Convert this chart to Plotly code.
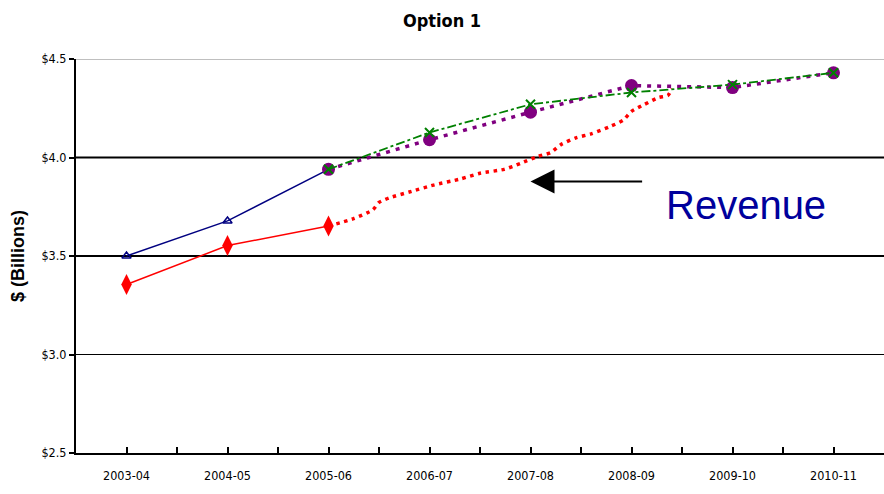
import plotly.graph_objects as go

# Fiscal years on the category axis
years = ["2003-04", "2004-05", "2005-06", "2006-07", "2007-08", "2008-09", "2009-10", "2010-11"]
year_pos = list(range(len(years)))

# Historical series (first three fiscal years)
blue_vals = [3.50, 3.678, 3.94]
red_vals = [3.355, 3.553, 3.652]

# Revenue projection path (position in fiscal years, $ billions)
rev_pos = [2.0, 2.25, 2.44, 2.50, 2.60, 2.80, 3.04, 3.30, 3.50, 3.74, 3.90, 4.07, 4.20,
           4.30, 4.45, 4.60, 4.80, 4.92, 5.00, 5.13, 5.27, 5.36, 5.40]
rev_vals = [3.652, 3.69, 3.735, 3.772, 3.795, 3.825, 3.86, 3.89, 3.92, 3.94, 3.97, 4.005, 4.025,
            4.065, 4.10, 4.12, 4.16, 4.19, 4.234, 4.27, 4.305, 4.315, 4.35]

# Two expenditure scenarios from 2005-06 onward
purple_vals = [3.94, 4.09, 4.23, 4.365, 4.355, 4.43]
green_vals = [3.94, 4.127, 4.27, 4.33, 4.37, 4.43]
scen_pos = year_pos[2:]

y_ticks = [2.5, 3.0, 3.5, 4.0, 4.5]
y_labels = ["$2.5", "$3.0", "$3.5", "$4.0", "$4.5"]

narrow = "DejaVu Sans Condensed, Liberation Sans Narrow, Arial Narrow, sans-serif"

fig = go.Figure()

fig.add_trace(go.Scatter(
    x=year_pos[:3], y=blue_vals, mode="lines+markers",
    line=dict(color="#000080", width=1.5),
    marker=dict(symbol="triangle-up-open", size=8, color="#000080", line=dict(width=1.5, color="#000080")),
    showlegend=False,
))
fig.add_trace(go.Scatter(
    x=year_pos[:3], y=red_vals, mode="lines+markers",
    line=dict(color="#ff0000", width=1.5),
    marker=dict(symbol="diamond-tall", size=15, color="#ff0000"),
    showlegend=False,
))
fig.add_trace(go.Scatter(
    x=rev_pos, y=rev_vals, mode="lines",
    line=dict(color="#ff0000", width=3.5, dash="3.5px,4.5px", shape="spline", smoothing=0.6),
    showlegend=False,
))
fig.add_trace(go.Scatter(
    x=scen_pos, y=purple_vals, mode="lines+markers",
    line=dict(color="#800080", width=3.5, dash="4px,6px"),
    marker=dict(symbol="circle", size=13, color="#800080"),
    showlegend=False,
))
fig.add_trace(go.Scatter(
    x=scen_pos, y=green_vals, mode="lines+markers",
    line=dict(color="#008000", width=1.8, dash="dashdot"),
    marker=dict(symbol="x-thin", size=9, color="#008000", line=dict(width=2, color="#008000")),
    showlegend=False,
))

# Heavier reference lines at $3.5 and $4.0, light line at the top of the range
shapes = []
for lvl in (3.5, 4.0):
    shapes.append(dict(type="line", xref="paper", x0=0, x1=1, yref="y", y0=lvl, y1=lvl,
                       line=dict(color="black", width=2), layer="below"))
shapes.append(dict(type="line", xref="paper", x0=0, x1=1, yref="y", y0=4.5, y1=4.5,
                   line=dict(color="#808080", width=1), layer="below"))

tickvals_x = [i * 0.5 for i in range(15)]
ticktext_x = [years[int(v)] if v == int(v) else "" for v in tickvals_x]

fig.update_layout(
    width=884, height=494,
    margin=dict(l=76, r=0, t=59, b=41),
    paper_bgcolor="white", plot_bgcolor="white",
    title=dict(text="<b>Option 1</b>", x=0.5, xanchor="center", y=0.958, yanchor="middle",
               font=dict(family=narrow, size=18, color="black")),
    shapes=shapes,
    xaxis=dict(
        range=[-0.5, 7.5], tickvals=tickvals_x, ticktext=ticktext_x,
        showgrid=False, zeroline=False,
        showline=True, linecolor="black", linewidth=2,
        ticks="inside", ticklen=6, tickcolor="black", tickwidth=1.5,
        ticklabelstandoff=10,
        tickfont=dict(family=narrow, size=12.5, color="black"),
    ),
    yaxis=dict(
        range=[2.5, 4.5], tickvals=y_ticks, ticktext=y_labels,
        showgrid=True, gridcolor="black", gridwidth=1, zeroline=False,
        showline=True, linecolor="black", linewidth=2,
        ticks="outside", ticklen=5, tickcolor="black", tickwidth=1.5,
        tickfont=dict(family=narrow, size=12.5, color="black"),
        title=dict(text="<b>$ (Billions)</b>", standoff=12,
                   font=dict(family="Liberation Sans, Arial, sans-serif", size=18, color="black")),
    ),
    annotations=[
        dict(x=4.0, y=3.878, xref="x", yref="y", ax=5.12, ay=3.878, axref="x", ayref="y",
             text="", showarrow=True, arrowhead=2, arrowsize=2.4, arrowwidth=2, arrowcolor="black"),
        dict(x=6.13, y=3.76, xref="x", yref="y", text="Revenue", showarrow=False,
             font=dict(family="Liberation Sans, Arial, sans-serif", size=40, color="#00009C")),
    ],
)

fig.write_html("out.html")
